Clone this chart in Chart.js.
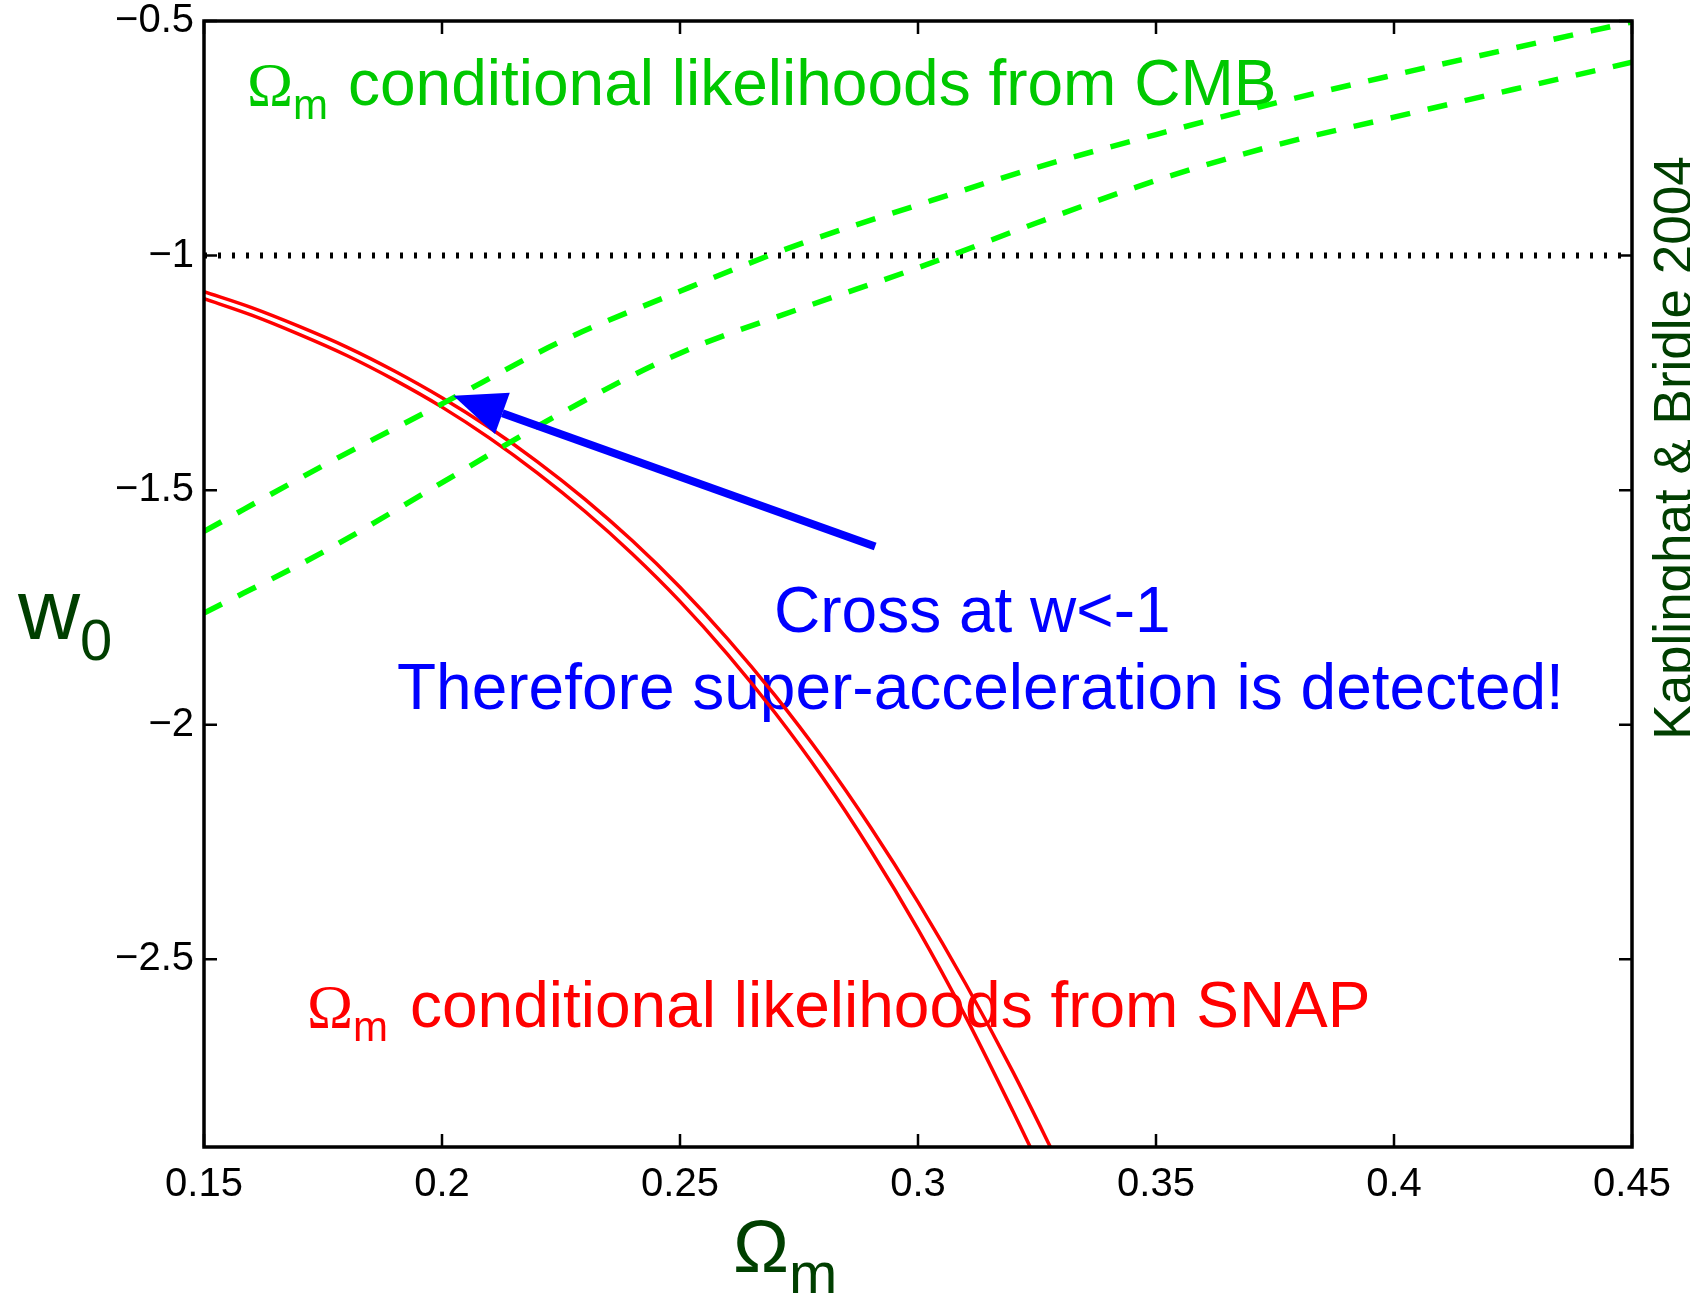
<!DOCTYPE html>
<html>
<head>
<meta charset="utf-8">
<script src="https://cdn.jsdelivr.net/npm/chart.js@4.4.1/dist/chart.umd.min.js"></script>
<style>
  html, body { margin: 0; padding: 0; background: #fff; }
  #wrap { width: 1690px; height: 1297px; }
</style>
</head>
<body>
<div id="wrap"><canvas id="plot" width="1690" height="1297"></canvas></div>
<script>
// axis ticks
const omegaTicks = [0.15, 0.2, 0.25, 0.3, 0.35, 0.4, 0.45];
const w0Ticks = [-0.5, -1, -1.5, -2, -2.5];

// CMB conditional likelihood contours (green dashed)
const cmbOmega = [0.15, 0.175, 0.2, 0.225, 0.25, 0.275, 0.3, 0.325, 0.35, 0.375, 0.4, 0.425, 0.45];
const cmbUpper = [-1.588, -1.448, -1.316, -1.183, -1.076, -0.976, -0.892, -0.812, -0.742, -0.675, -0.615, -0.558, -0.502];
const cmbLower = [-1.762, -1.632, -1.484, -1.336, -1.208, -1.114, -1.026, -0.930, -0.840, -0.765, -0.705, -0.646, -0.588];

// SNAP conditional likelihood contours (red)
const snapOmega = [0.15, 0.16, 0.17, 0.18, 0.19, 0.2, 0.21, 0.22, 0.23, 0.24, 0.25, 0.26, 0.27, 0.28, 0.29, 0.3, 0.31, 0.32, 0.33];
const snapUpper = [-1.077, -1.111, -1.151, -1.195, -1.246, -1.303, -1.367, -1.439, -1.519, -1.608, -1.707, -1.817, -1.938, -2.071, -2.218, -2.378, -2.552, -2.741, -2.945];
const snapLower = [-1.092, -1.127, -1.168, -1.213, -1.265, -1.323, -1.389, -1.463, -1.545, -1.636, -1.737, -1.850, -1.975, -2.113, -2.267, -2.436, -2.622, -2.825, -3.035];

// w = -1 reference line
const divideOmega = [0.15, 0.45];
const divideW = [-1, -1];

// arrow pointing at the crossing (data units)
const arrowTail = { x: 0.291, y: -1.620 };
const arrowTip = { x: 0.2024, y: -1.299 };

const SANS = '"Liberation Sans", Arial, Helvetica, sans-serif';
const SERIF = '"Liberation Serif", "Times New Roman", serif';

function pts(xs, ys) {
    return xs.map((x, i) => ({ x: x, y: ys[i] }));
}

// main text followed by a lowered subscript
function textWithSub(ctx, main, sub, x, y, mainFont, subFont, drop) {
    ctx.font = mainFont;
    ctx.fillText(main, x, y);
    const w = ctx.measureText(main).width;
    ctx.font = subFont;
    ctx.fillText(sub, x + w, y + drop);
    return x + w + ctx.measureText(sub).width;
}

const annotations = {
    id: 'annotations',
    beforeDatasetsDraw(chart) {
        const ctx = chart.ctx;
        ctx.save();
        ctx.textBaseline = 'alphabetic';
        ctx.textAlign = 'left';

        ctx.fillStyle = '#00c800';
        textWithSub(ctx, '\u03A9', 'm', 247, 105, '62px ' + SERIF, '42px ' + SANS, 14);
        ctx.font = '64px ' + SANS;
        ctx.fillText('conditional likelihoods from CMB', 348, 105);

        ctx.fillStyle = '#ff0000';
        textWithSub(ctx, '\u03A9', 'm', 307, 1027, '62px ' + SERIF, '42px ' + SANS, 14);
        ctx.font = '64px ' + SANS;
        ctx.fillText('conditional likelihoods from SNAP', 410, 1027);

        ctx.fillStyle = '#0000ff';
        ctx.font = '64px ' + SANS;
        ctx.fillText('Cross at w<-1', 774, 632);
        ctx.fillText('Therefore super-acceleration is detected!', 397, 709);
        ctx.restore();
    },
    afterDatasetsDraw(chart) {
        const { ctx, chartArea: a, scales: { x, y } } = chart;
        ctx.save();

        // arrow
        const x0 = x.getPixelForValue(arrowTail.x), y0 = y.getPixelForValue(arrowTail.y);
        const x1 = x.getPixelForValue(arrowTip.x), y1 = y.getPixelForValue(arrowTip.y);
        const ang = Math.atan2(y1 - y0, x1 - x0);
        const headLen = 52, headHalf = 22;
        const bx = x1 - headLen * Math.cos(ang), by = y1 - headLen * Math.sin(ang);
        ctx.strokeStyle = '#0000ff';
        ctx.fillStyle = '#0000ff';
        ctx.lineWidth = 8;
        ctx.beginPath();
        ctx.moveTo(x0, y0);
        ctx.lineTo(bx, by);
        ctx.stroke();
        ctx.beginPath();
        ctx.moveTo(x1, y1);
        ctx.lineTo(bx + headHalf * Math.sin(ang), by - headHalf * Math.cos(ang));
        ctx.lineTo(bx - headHalf * Math.sin(ang), by + headHalf * Math.cos(ang));
        ctx.closePath();
        ctx.fill();

        // matlab style box with inward ticks
        ctx.strokeStyle = '#000';
        ctx.lineWidth = 3.5;
        ctx.strokeRect(a.left, a.top, a.right - a.left, a.bottom - a.top);
        ctx.lineWidth = 2.5;
        ctx.beginPath();
        omegaTicks.forEach(v => {
            const px = x.getPixelForValue(v);
            ctx.moveTo(px, a.bottom);
            ctx.lineTo(px, a.bottom - 13);
            ctx.moveTo(px, a.top);
            ctx.lineTo(px, a.top + 13);
        });
        w0Ticks.forEach(v => {
            const py = y.getPixelForValue(v);
            ctx.moveTo(a.left, py);
            ctx.lineTo(a.left + 13, py);
            ctx.moveTo(a.right, py);
            ctx.lineTo(a.right - 13, py);
        });
        ctx.stroke();

        // axis titles
        ctx.fillStyle = '#003f00';
        ctx.textBaseline = 'alphabetic';
        ctx.textAlign = 'left';
        textWithSub(ctx, 'w', '0', 18, 639, '86px ' + SANS, '58px ' + SANS, 21);
        textWithSub(ctx, '\u03A9', 'm', 733, 1272, '75px ' + SANS, '58px ' + SANS, 21);

        // credit on the right edge
        ctx.save();
        ctx.translate(1691, 448);
        ctx.rotate(-Math.PI / 2);
        ctx.textAlign = 'center';
        ctx.font = '53px ' + SANS;
        ctx.fillText('Kaplinghat & Bridle 2004', 0, 0);
        ctx.restore();

        ctx.restore();
    }
};

const ctx = document.getElementById('plot');

const cfg = {
    type: 'scatter',
    data: {
        datasets: [
            {
                label: 'CMB upper',
                data: pts(cmbOmega, cmbUpper),
                showLine: true,
                borderColor: '#00ff00',
                borderWidth: 5.5,
                borderDash: [20, 18],
                pointRadius: 0,
                cubicInterpolationMode: 'monotone'
            },
            {
                label: 'CMB lower',
                data: pts(cmbOmega, cmbLower),
                showLine: true,
                borderColor: '#00ff00',
                borderWidth: 5.5,
                borderDash: [20, 18],
                pointRadius: 0,
                cubicInterpolationMode: 'monotone'
            },
            {
                label: 'w = -1',
                data: pts(divideOmega, divideW),
                showLine: true,
                borderColor: '#000',
                borderWidth: 6,
                borderDash: [3, 11],
                pointRadius: 0
            },
            {
                label: 'SNAP upper',
                data: pts(snapOmega, snapUpper),
                showLine: true,
                borderColor: '#ff0000',
                borderWidth: 3.5,
                pointRadius: 0,
                cubicInterpolationMode: 'monotone'
            },
            {
                label: 'SNAP lower',
                data: pts(snapOmega, snapLower),
                showLine: true,
                borderColor: '#ff0000',
                borderWidth: 3.5,
                pointRadius: 0,
                cubicInterpolationMode: 'monotone'
            }
        ]
    },
    options: {
        responsive: false,
        animation: false,
        layout: { padding: { top: 21, right: 58, left: 0, bottom: 0 } },
        plugins: {
            legend: { display: false },
            tooltip: { enabled: false }
        },
        scales: {
            x: {
                type: 'linear',
                min: 0.15,
                max: 0.45,
                grid: { display: false, drawTicks: false },
                border: { display: false },
                afterBuildTicks: s => { s.ticks = omegaTicks.map(v => ({ value: v })); },
                afterFit: s => { s.height = 150; },
                ticks: {
                    padding: 14,
                    color: '#000',
                    maxRotation: 0,
                    autoSkip: false,
                    font: { family: SANS, size: 40 },
                    callback: v => String(+v.toFixed(2))
                }
            },
            y: {
                type: 'linear',
                min: -2.9,
                max: -0.5,
                grid: { display: false, drawTicks: false },
                border: { display: false },
                afterBuildTicks: s => { s.ticks = w0Ticks.map(v => ({ value: v })); },
                afterFit: s => { s.width = 204; s.paddingTop = 0; s.paddingBottom = 0; },
                ticks: {
                    padding: 10,
                    color: '#000',
                    autoSkip: false,
                    font: { family: SANS, size: 40 },
                    callback: v => String(+v.toFixed(2)).replace('-', '\u2212')
                }
            }
        }
    },
    plugins: [annotations]
};

new Chart(ctx, cfg);
</script>
</body>
</html>
